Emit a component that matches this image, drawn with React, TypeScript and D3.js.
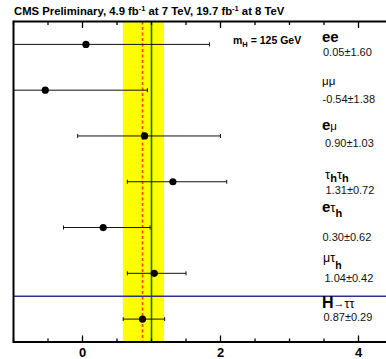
import * as d3 from 'd3';

// channels, best-fit signal strength and asymmetric errors
const channels = ['ee', 'μμ', 'eμ', 'τhτh', 'eτh', 'μτh', 'H→ττ'];
const muValues = [0.05, -0.54, 0.9, 1.31, 0.3, 1.04, 0.87];
const errDown = [1.6, 1.38, 0.97, 0.66, 0.575, 0.39, 0.28];
const errUp = [1.79, 1.48, 1.1, 0.78, 0.68, 0.46, 0.32];
const valueLabels = ['0.05±1.60', '-0.54±1.38', '0.90±1.03', '1.31±0.72', '0.30±0.62', '1.04±0.42', '0.87±0.29'];

const combined = 0.87;
const combinedDown = 0.285;
const combinedUp = 0.31;
const smValue = 1;
const tickLabels = [0, 2, 4];

const W = 386;
const H = 359;
const font = '"Liberation Sans", Arial, Helvetica, sans-serif';

type Seg = { t: string; bold?: boolean; size: number; dy?: number };

// label pieces per channel (offsets are relative to the row centre)
const nameSegs: Seg[][] = [
  [{ t: 'ee', bold: true, size: 15 }],
  [{ t: 'μμ', size: 11.5 }],
  [{ t: 'e', bold: true, size: 15 }, { t: 'μ', size: 11.5 }],
  [{ t: 'τ', size: 13 }, { t: 'h', bold: true, size: 11, dy: 3 }, { t: 'τ', size: 13, dy: -3 }, { t: 'h', bold: true, size: 11, dy: 3 }],
  [{ t: 'e', bold: true, size: 15 }, { t: 'τ', size: 13 }, { t: 'h', bold: true, size: 11, dy: 5 }],
  [{ t: 'μτ', size: 12.5 }, { t: 'h', bold: true, size: 10.5, dy: 7 }],
  [{ t: 'H', bold: true, size: 16 }, { t: '→', size: 11, dy: -1 }, { t: 'ττ', size: 12.5, dy: 1 }],
];
const nameDy = [-2.5, -5, -6, -3, -16, -11.5, -11];
const valueDy = [11.5, 12.5, 11.5, 12.3, 13.5, 9, 2];
const nameDx = [0, 0, 0, 3, 0, 1, 0];
const valueDx = [0.5, 0, 2.5, 3, 0, 2, 1];

export default function App() {
  const top = 21.5;
  const bottom = 342;
  const left = 13.5;

  const x = d3.scaleLinear().domain([-1, 5]).range([left, left + 6 * 69]);
  const y = d3.scaleBand().domain(channels).range([top, bottom]).padding(0);
  const cy = (c: string) => (y(c) ?? 0) + y.bandwidth() / 2;

  const minorTicks = d3.range(-1, 5.01, 0.5).filter((t) => t % 2 !== 0);
  const majorTicks = d3.range(0, 5.01, 2);
  const sepY = y(channels[channels.length - 1]) ?? 0;

  return (
    <svg
      width={W}
      height={H}
      style={{ position: 'absolute', left: 0, top: 0, background: '#fff' }}
      fontFamily={font}
    >
      <defs>
        <clipPath id="plot">
          <rect x={left} y={top} width={W - left} height={bottom - top} />
        </clipPath>
      </defs>

      <text x={14} y={15} fontSize={11.3} fontWeight="bold" fill="#000">
        CMS Preliminary, 4.9 fb
        <tspan fontSize={7.5} dy={-4}>-1</tspan>
        <tspan dy={4}> at 7 TeV, 19.7 fb</tspan>
        <tspan fontSize={7.5} dy={-4}>-1</tspan>
        <tspan dy={4}> at 8 TeV</tspan>
      </text>

      <g clipPath="url(#plot)">
        {/* combined +-1 sigma band */}
        <rect
          x={x(combined - combinedDown)}
          y={top}
          width={x(combined + combinedUp) - x(combined - combinedDown)}
          height={bottom - top}
          fill="#ffff00"
        />
        <line x1={x(combined)} x2={x(combined)} y1={top} y2={bottom} stroke="#ff4000" strokeWidth={1.6} strokeDasharray="3,2.5" />
        <line x1={x(smValue)} x2={x(smValue)} y1={top} y2={bottom} stroke="#0a7a0a" strokeWidth={1.6} />
        <line x1={left} x2={W} y1={sepY} y2={sepY} stroke="#303090" strokeWidth={1.6} />

        {channels.map((c, i) => {
          const yc = cy(c);
          const lo = x(muValues[i] - errDown[i]);
          const hi = x(muValues[i] + errUp[i]);
          return (
            <g key={c}>
              <line x1={lo} x2={hi} y1={yc} y2={yc} stroke="#111" strokeWidth={1} />
              <line x1={lo} x2={lo} y1={yc - 2} y2={yc + 2} stroke="#111" strokeWidth={1} />
              <line x1={hi} x2={hi} y1={yc - 2} y2={yc + 2} stroke="#111" strokeWidth={1} />
              <circle cx={x(muValues[i])} cy={yc} r={3.6} fill="#000" />
            </g>
          );
        })}
      </g>

      {/* frame and ticks */}
      <line x1={left} x2={W} y1={top} y2={top} stroke="#000" strokeWidth={2} />
      <line x1={left} x2={W} y1={bottom} y2={bottom} stroke="#000" strokeWidth={2} />
      <line x1={left} x2={left} y1={top - 1} y2={bottom + 1} stroke="#000" strokeWidth={2} />
      {minorTicks.map((t) => (
        <g key={'mi' + t}>
          <line x1={x(t)} x2={x(t)} y1={bottom} y2={bottom - 3.5} stroke="#000" strokeWidth={1.3} />
          <line x1={x(t)} x2={x(t)} y1={top} y2={top + 3.5} stroke="#000" strokeWidth={1.3} />
        </g>
      ))}
      {majorTicks.map((t) => (
        <g key={'ma' + t}>
          <line x1={x(t)} x2={x(t)} y1={bottom} y2={bottom - 6.5} stroke="#000" strokeWidth={1.3} />
          <line x1={x(t)} x2={x(t)} y1={top} y2={top + 6.5} stroke="#000" strokeWidth={1.3} />
        </g>
      ))}
      {tickLabels.map((t) => (
        <text key={'tl' + t} x={x(t)} y={357} textAnchor="middle" fontSize={13} fontWeight="bold">
          {t}
        </text>
      ))}

      <text x={233} y={44} fontSize={10.5} fontWeight="bold">
        m<tspan fontSize={7.5} dy={3}>H</tspan>
        <tspan dy={-3}> = 125 GeV</tspan>
      </text>

      {channels.map((c, i) => {
        const yc = cy(c);
        return (
          <g key={'lab' + c}>
            <text x={322 + nameDx[i]} y={yc + nameDy[i]} fill="#000">
              {nameSegs[i].map((s, j) => (
                <tspan key={j} fontSize={s.size} fontWeight={s.bold ? 'bold' : 'normal'} dy={s.dy ?? 0}>
                  {s.t}
                </tspan>
              ))}
            </text>
            <text x={322.5 + valueDx[i]} y={yc + valueDy[i]} fontSize={11} fill="#111">
              {valueLabels[i]}
            </text>
          </g>
        );
      })}
    </svg>
  );
}
